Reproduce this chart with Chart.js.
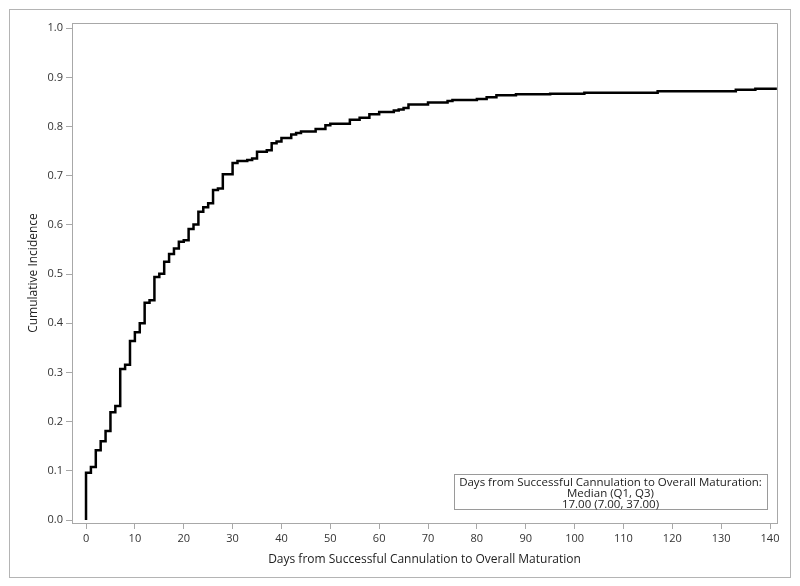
<!DOCTYPE html>
<html>
<head>
<meta charset="utf-8">
<script src="https://cdn.jsdelivr.net/npm/chart.js@4/dist/chart.umd.min.js"></script>
<style>
  body { margin: 0; background: #ffffff; }
  canvas { display: block; }
</style>
</head>
<body>
<canvas id="myChart" width="800" height="586"></canvas>
<script>
// step points: day of event, cumulative incidence after the step
const days = [0, 0, 1, 2, 3, 4, 5, 6, 7, 8, 9, 10, 11, 12, 13, 14, 15, 16, 17, 18, 19, 20,
    21, 22, 23, 24, 25, 26, 27, 28, 30, 31, 33, 34, 35, 37, 38, 39, 40, 42, 43, 44, 47,
    49, 50, 54, 56, 58, 60, 63, 64, 65, 66, 70, 74, 75, 80, 82, 84, 88, 95, 102, 117,
    133, 137, 141.4]
const incidence = [0, 0.096, 0.108, 0.142, 0.160, 0.181, 0.219, 0.232, 0.307, 0.316, 0.364,
    0.382, 0.400, 0.442, 0.447, 0.494, 0.501, 0.525, 0.541, 0.552, 0.566, 0.569, 0.592,
    0.601, 0.627, 0.636, 0.644, 0.671, 0.674, 0.703, 0.726, 0.730, 0.732, 0.735, 0.749,
    0.752, 0.766, 0.770, 0.777, 0.784, 0.787, 0.790, 0.795, 0.803, 0.806, 0.814, 0.818,
    0.825, 0.830, 0.833, 0.835, 0.838, 0.845, 0.849, 0.852, 0.854, 0.856, 0.860, 0.864,
    0.866, 0.867, 0.869, 0.872, 0.875, 0.877, 0.877]

const xTicks = [0, 10, 20, 30, 40, 50, 60, 70, 80, 90, 100, 110, 120, 130, 140]
const yTicks = [0, 0.1, 0.2, 0.3, 0.4, 0.5, 0.6, 0.7, 0.8, 0.9, 1.0]

const xTitle = 'Days from Successful Cannulation to Overall Maturation'
const yTitle = 'Cumulative Incidence'
const insetLines = [
    'Days from Successful Cannulation to Overall Maturation:',
    'Median (Q1, Q3)',
    '17.00 (7.00, 37.00)'
]

const fontFamily = '"Open Sans", "DejaVu Sans", sans-serif'
const frameColor = '#a8a8a8'

const points = []
for (let i = 0; i < days.length; i++) {
    points.push({ x: days[i], y: incidence[i] })
}

const framePlugin = {
    id: 'frame',
    beforeDraw(chart) {
        const ctx = chart.ctx
        ctx.save()
        ctx.fillStyle = '#ffffff'
        ctx.fillRect(0, 0, chart.width, chart.height)
        ctx.strokeStyle = '#b4b4b4'
        ctx.lineWidth = 1
        ctx.strokeRect(9.5, 9.5, 781, 568)
        ctx.restore()
    },
    afterDraw(chart) {
        const ctx = chart.ctx
        const area = chart.chartArea
        ctx.save()
        ctx.strokeStyle = frameColor
        ctx.lineWidth = 1
        ctx.beginPath()
        ctx.moveTo(Math.round(area.left) + 0.5, Math.round(area.top) + 0.5)
        ctx.lineTo(Math.round(area.right) + 0.5, Math.round(area.top) + 0.5)
        ctx.lineTo(Math.round(area.right) + 0.5, Math.round(area.bottom) + 0.5)
        ctx.stroke()

        // inset box with the median summary
        ctx.font = '11.5px ' + fontFamily
        let w = 0
        insetLines.forEach(t => { w = Math.max(w, ctx.measureText(t).width) })
        const boxW = Math.round(w + 10)
        const boxH = 35
        const right = Math.round(area.right) - 10
        const bottom = Math.round(area.bottom) - 14
        const left = right - boxW
        const top = bottom - boxH
        ctx.strokeStyle = '#9a9a9a'
        ctx.strokeRect(left + 0.5, top + 0.5, boxW, boxH)
        ctx.fillStyle = '#222222'
        ctx.textAlign = 'center'
        ctx.textBaseline = 'middle'
        const cx = left + boxW / 2
        insetLines.forEach((t, i) => {
            ctx.fillText(t, cx, top + 9 + i * 11)
        })
        ctx.restore()
    }
}

new Chart(document.getElementById('myChart'), {
    type: 'line',
    data: {
        datasets: [{
            data: points,
            stepped: 'before',
            borderColor: '#000000',
            borderWidth: 2.5,
            pointRadius: 0,
            fill: false
        }]
    },
    options: {
        responsive: false,
        animation: false,
        layout: { padding: { left: 0, top: 23, right: 23, bottom: 0 } },
        plugins: {
            legend: { display: false },
            tooltip: { enabled: false }
        },
        scales: {
            x: {
                type: 'linear',
                min: -2.87,
                max: 141.43,
                afterFit: scale => { scale.height = 63 },
                afterBuildTicks: scale => { scale.ticks = xTicks.map(v => ({ value: v })) },
                grid: { drawOnChartArea: false, color: frameColor, tickLength: 6 },
                border: { display: true, color: frameColor },
                ticks: {
                    color: '#333333',
                    font: { family: fontFamily, size: 11 },
                    padding: 3,
                    maxRotation: 0,
                    callback: v => String(v)
                },
                title: {
                    display: true,
                    text: xTitle,
                    color: '#222222',
                    font: { family: fontFamily, size: 12 },
                    padding: { top: 0, bottom: 19 }
                }
            },
            y: {
                type: 'linear',
                min: -0.0061,
                max: 1.0108,
                afterFit: scale => { scale.width = 72 },
                afterBuildTicks: scale => { scale.ticks = yTicks.map(v => ({ value: v })) },
                grid: { drawOnChartArea: false, color: frameColor, tickLength: 6 },
                border: { display: true, color: frameColor },
                ticks: {
                    color: '#333333',
                    font: { family: fontFamily, size: 11 },
                    padding: 3,
                    callback: v => v.toFixed(1)
                },
                title: {
                    display: true,
                    text: yTitle,
                    color: '#222222',
                    font: { family: fontFamily, size: 12 },
                    padding: { top: 26, bottom: 0 }
                }
            }
        }
    },
    plugins: [framePlugin]
})
</script>
</body>
</html>
